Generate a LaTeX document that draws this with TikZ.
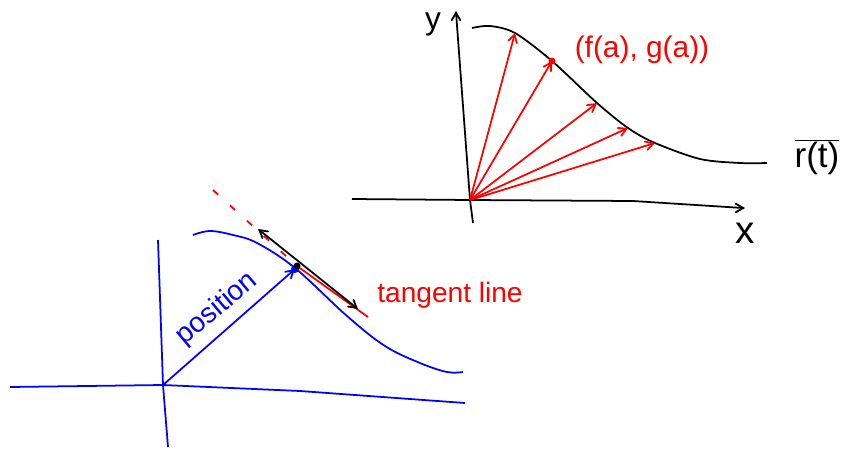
\documentclass[tikz,border=0pt]{standalone}
\usepackage{fontspec}
\setmainfont{Liberation Sans}
\usetikzlibrary{arrows, backgrounds, positioning}

\begin{document}
\begin{tikzpicture}[
            x=0.02cm, y=-0.02cm,
            background rectangle/.style={fill=white},
            show background rectangle,
            inner frame sep=0pt,
            line width=1pt,
            >=angle 60
        ]

        \tikzstyle{every node}=[
            inner sep=1pt
        ]
        \tikzstyle{vec}=[red, ->]
        \tikzstyle{hand}=[font=\fontsize{16}{18}\selectfont]

        \useasboundingbox (0,0) rectangle (860,450);

        % upper sketch: r(t) with position vectors
        \coordinate (o) at (470,200);
        \coordinate (xl) at (352,199);
        \coordinate (xr) at (743,208);
        \coordinate (yb) at (473,223);
        \coordinate (yt) at (456,12);

        \draw (xl) -- (o) -- (633,201) -- (xr);
        \draw[->] (xr) -- ++(2,0);
        \draw (yb) -- (o) -- (yt);
        \draw[->] (yt) -- ++(0,-1);

        \node[font=\fontsize{18}{20}\selectfont] (ylab) at (433,24) {y};
        \node[font=\fontsize{22}{24}\selectfont] (xlab) at (745,233) {x};

        \draw plot[smooth] coordinates {(472,28) (490,26) (515,33) (552,61)
            (597,103) (628,128) (655,143) (700,159) (740,163) (767,163)};

        \coordinate (t1) at (515,33);
        \coordinate (t2) at (552,61);
        \coordinate (t3) at (597,103);
        \coordinate (t4) at (628,128);
        \coordinate (t5) at (655,143);

        \path[vec] (o) edge (t1);
        \path[vec] (o) edge (t2);
        \path[vec] (o) edge (t3);
        \path[vec] (o) edge (t4);
        \path[vec] (o) edge (t5);
        \fill[red] (t2) circle (3.5);

        \node[red, font=\fontsize{17}{19}\selectfont] (fg) at (642,50) {(f(a), g(a))};
        \node[font=\fontsize{20}{22}\selectfont] (rt) at (817,157)
            {$\overline{\hbox{r(t)}}$};

        % lower sketch: position and tangent line
        \coordinate (p) at (163,385);
        \coordinate (q) at (295,269);

        \draw[blue] (10,387) -- (p) -- (300,391) -- (465,403);
        \draw[blue] (158,240) -- (p) -- (168,447);
        \draw[blue] plot[smooth, tension=0.6] coordinates {(193,235) (210,231)
            (233,235) (257,243) (295,268) (347,316) (385,346) (420,363)
            (447,372) (463,372)};

        \path[blue, ->] (p) edge (q);
        \fill[blue] (q) circle (4);
        \node[hand, blue, rotate=40] (pos) at (217,309) {position};

        \coordinate (ta) at (213,190);
        \coordinate (tb) at (368,317);
        \coordinate (pt) at (297,266);
        \draw[red, dash pattern=on 4pt off 9pt] (ta) -- (pt);
        \draw[red] (pt) -- (tb);
        \path[<->] (258,229) edge (358,309);
        \fill (pt) circle (3.5);

        \node[hand, red] (tl) at (450,295) {tangent line};

    \end{tikzpicture}
\end{document}
